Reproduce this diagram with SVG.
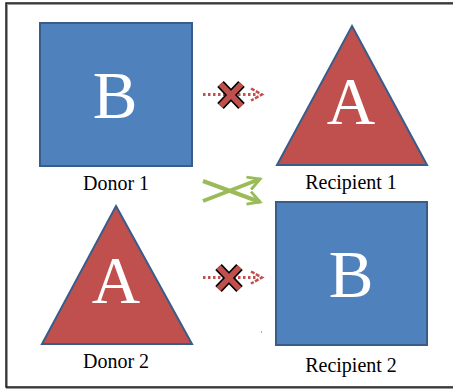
<svg xmlns="http://www.w3.org/2000/svg" width="453" height="390" viewBox="0 0 453 390">
<defs>
<style>
.sq{fill:#4F81BD;stroke:#385D8A;stroke-width:2}
.tri{fill:#C0504D;stroke:#385D8A;stroke-width:2;stroke-linejoin:miter}
.big{font-family:"Liberation Serif","Times New Roman",serif;font-size:67px;fill:#ffffff;text-anchor:middle}
.lbl{font-family:"Liberation Serif","Times New Roman",serif;font-size:20px;fill:#000000;text-anchor:middle}
.dot{stroke:#C0504D;stroke-width:3;stroke-dasharray:2.5 2.5;fill:none}
.head{stroke:#C0504D;stroke-width:2.5;fill:none;stroke-dasharray:4 1.5}
.xo{stroke:#000;stroke-width:9}
.xi{stroke:#C0504D;stroke-width:5.5}
.g{stroke:#9BBB59;stroke-width:4;fill:none;stroke-linecap:butt}
</style>
<marker id="gh" viewBox="0 0 12 12" refX="10" refY="6" markerWidth="4" markerHeight="4" markerUnits="strokeWidth" orient="auto">
<polyline points="1,1 10,6 1,11" fill="none" stroke="#9BBB59" stroke-width="2.2"/>
</marker>
</defs>
<rect x="0" y="0" width="453" height="390" fill="#ffffff"/>
<rect x="7" y="4" width="452" height="384" fill="none" stroke="#9a9a9a" stroke-width="2"/>
<rect x="6" y="3" width="452" height="384" fill="none" stroke="#1a1a1a" stroke-width="1.5"/>

<g id="donor1">
<rect class="sq" x="40" y="23" width="152" height="143"/>
<text class="big" x="115" y="118">B</text>
<text class="lbl" x="116" y="190">Donor 1</text>
</g>
<g id="recipient1">
<polygon class="tri" points="352,26 427,165 277,165"/>
<text class="big" x="351" y="124">A</text>
<text class="lbl" x="351" y="189">Recipient 1</text>
</g>
<g id="donor2">
<polygon class="tri" points="116,206 192,344 42,344"/>
<text class="big" x="116" y="303">A</text>
<text class="lbl" x="116" y="368">Donor 2</text>
</g>
<g id="recipient2">
<rect class="sq" x="276" y="202" width="151" height="143"/>
<text class="big" x="351" y="297">B</text>
<text class="lbl" x="351" y="372">Recipient 2</text>
</g>

<g id="connectors">
<line class="dot" x1="203" y1="94.5" x2="258" y2="94.5"/>
<polyline class="head" points="251,88.5 262,94.5 251,100.5"/>
<line class="xo" x1="220.5" y1="84" x2="241.5" y2="106"/>
<line class="xo" x1="241.5" y1="84" x2="220.5" y2="106"/>
<line class="xi" x1="220.5" y1="84" x2="241.5" y2="106"/>
<line class="xi" x1="241.5" y1="84" x2="220.5" y2="106"/>

<line class="dot" x1="203" y1="277.5" x2="258" y2="277.5"/>
<polyline class="head" points="251,271.5 262,277.5 251,283.5"/>
<line class="xo" x1="218.5" y1="267" x2="239.5" y2="289"/>
<line class="xo" x1="239.5" y1="267" x2="218.5" y2="289"/>
<line class="xi" x1="218.5" y1="267" x2="239.5" y2="289"/>
<line class="xi" x1="239.5" y1="267" x2="218.5" y2="289"/>

<line class="g" x1="203" y1="181" x2="260" y2="202" marker-end="url(#gh)"/>
<line class="g" x1="203" y1="201" x2="260" y2="179" marker-end="url(#gh)"/>
</g>
<rect x="261" y="331.5" width="1" height="1" fill="#555"/>
</svg>
